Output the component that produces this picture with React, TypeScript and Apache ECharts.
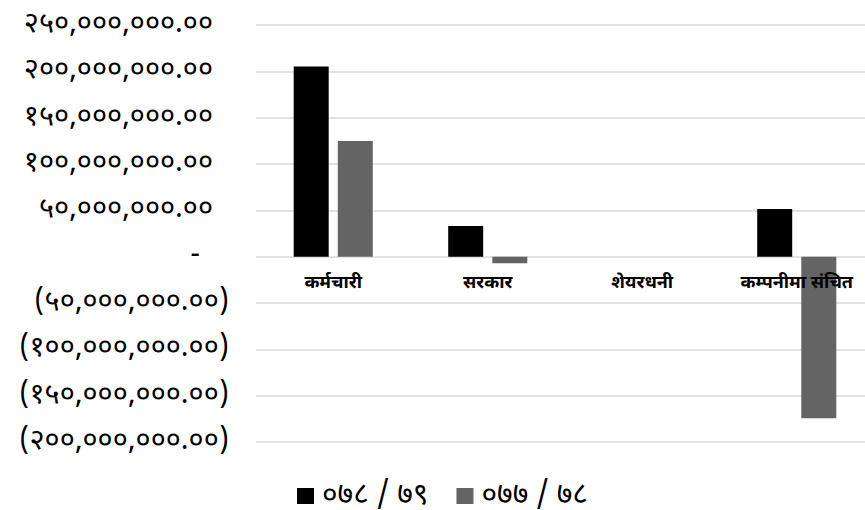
import React, { useEffect, useRef } from "react";
import * as echarts from "echarts";

const categories = ["कर्मचारी", "सरकार", "शेयरधनी", "कम्पनीमा संचित"];
const seriesNames = ["०७८ / ७९", "०७७ / ७८"];
const values2079 = [205200000, 33100000, 0, 51500000];
const values2078 = [124900000, -7000000, 0, -174500000];
const colors = ["#000000", "#646464"];

const devDigits = "०१२३४५६७८९";
const toDev = (s: string) => s.replace(/[0-9]/g, (d) => devDigits[Number(d)]);

const fmt = (v: number) => {
  if (v === 0) return "{z|-}";
  const abs = Math.abs(v);
  const s = abs.toLocaleString("en-US", { minimumFractionDigits: 2, maximumFractionDigits: 2 });
  const d = toDev(s);
  return v < 0 ? "{n|(" + d + ")}" : "{p|" + d + "}";
};

const FONT = "'Noto Sans Devanagari', 'Lohit Devanagari', 'Mukta', 'Noto Sans', 'DejaVu Sans', sans-serif";
const YFS = 29;

export default function App() {
  const ref = useRef<HTMLDivElement>(null);
  useEffect(() => {
    if (!ref.current) return;
    document.body.style.margin = "0";
    const chart = echarts.init(ref.current, null, { renderer: "svg" });
    chart.setOption({
      animation: false,
      backgroundColor: "#ffffff",
      grid: { left: 256, width: 618, top: 25, bottom: 68, outerBoundsMode: "none", containLabel: false },
      legend: {
        top: 481,
        left: 297,
        padding: 0,
        itemWidth: 17,
        itemHeight: 16,
        itemGap: 28,
        icon: "rect",
        textStyle: { fontFamily: FONT, fontSize: 30, lineHeight: 28, color: "#000", padding: [0, 0, 0, 3] },
        data: seriesNames,
      },
      xAxis: {
        type: "category",
        data: categories,
        offset: -185.2,
        z: 10,
        axisLine: { show: false, onZero: false },
        axisTick: { show: false },
        axisLabel: {
          fontFamily: FONT,
          fontWeight: "bold",
          fontSize: 18,
          color: "#000",
          margin: 18,
          interval: 0,
        },
      },
      yAxis: {
        type: "value",
        min: -200000000,
        max: 250000000,
        interval: 50000000,
        axisLine: { show: false },
        axisTick: { show: false },
        splitLine: { lineStyle: { color: "#d9d9d9", width: 1.5 } },
        axisLabel: {
          formatter: fmt,
          margin: 27,
          fontFamily: FONT,
          fontSize: YFS,
          color: "#000",
          rich: {
            p: { fontFamily: FONT, fontSize: YFS, color: "#000", padding: [0, 16, 0, 0] },
            n: { fontFamily: FONT, fontSize: YFS, color: "#000" },
            z: { fontFamily: FONT, fontSize: YFS, color: "#000", padding: [0, 29, 0, 0] },
          },
        },
      },
      series: [
        {
          name: seriesNames[0],
          type: "bar",
          data: values2079,
          barWidth: 35,
          barGap: "26%",
          itemStyle: { color: colors[0] },
        },
        {
          name: seriesNames[1],
          type: "bar",
          data: values2078,
          barWidth: 35,
          itemStyle: { color: colors[1] },
        },
      ],
    });
    return () => chart.dispose();
  }, []);
  return <div ref={ref} style={{ width: 865, height: 510 }} />;
}
